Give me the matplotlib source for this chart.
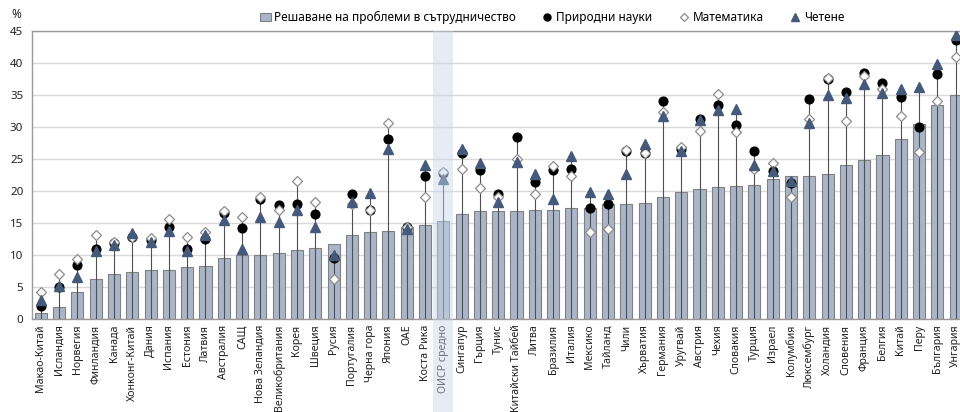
import matplotlib.pyplot as plt
from matplotlib.transforms import blended_transform_factory
from matplotlib.patches import Rectangle

plt.rcParams['font.family'] = ['Noto Sans', 'DejaVu Sans']

countries = [
    "Макао-Китай", "Исландия", "Норвегия", "Финландия", "Канада",
    "Хонконг-Китай", "Дания", "Испания", "Естония", "Латвия", "Австралия",
    "САЩ", "Нова Зеландия", "Великобритания", "Корея", "Швеция", "Русия",
    "Португалия", "Черна гора", "Япония", "ОАЕ", "Коста Рика",
    "ОИСР средно", "Сингапур", "Гърция", "Тунис", "Китайски Тайбей",
    "Литва", "Бразилия", "Италия", "Мексико", "Тайланд", "Чили",
    "Хърватия", "Германия", "Уругвай", "Австрия", "Чехия", "Словакия",
    "Турция", "Израел", "Колумбия", "Люксембург", "Холандия", "Словения",
    "Франция", "Белгия", "Китай", "Перу", "България", "Унгария",
]

# share of low performers (%)
collab = [0.9, 1.8, 4.2, 6.2, 7.1, 7.3, 7.6, 7.6, 8.2, 8.3, 9.6, 10.0, 10.0,
          10.3, 10.8, 11.1, 11.7, 13.1, 13.6, 13.7, 14.4, 14.7, 15.3, 16.4,
          16.8, 16.8, 16.9, 17.1, 17.1, 17.4, 17.4, 17.9, 17.9, 18.1, 19.0,
          19.8, 20.3, 20.6, 20.8, 20.9, 21.8, 22.3, 22.4, 22.7, 24.1, 24.8,
          25.6, 28.1, 30.4, 33.5, 35.0]
science = [2.1, 5.0, 8.5, 11.0, 11.9, 12.8, 12.4, 14.4, 11.0, 12.5, 16.5, 14.2,
           18.7, 17.8, 18.0, 16.4, 9.6, 19.6, 17.1, 28.1, 14.4, 22.4, 22.8,
           26.0, 23.3, 19.5, 28.4, 21.4, 23.3, 23.5, 17.3, 18.0, 26.3, 26.0,
           34.1, 26.6, 31.3, 33.5, 30.3, 26.3, 23.2, 21.3, 34.4, 37.5, 35.5,
           38.4, 36.8, 34.7, 30.0, 38.3, 43.6]
maths = [4.2, 7.1, 9.3, 13.2, 12.0, 12.8, 12.7, 15.6, 12.8, 13.6, 16.9, 15.9,
         19.0, 17.1, 21.6, 18.3, 6.3, 18.0, 17.1, 30.6, 14.3, 19.1, 22.9,
         23.4, 20.5, 19.0, 25.0, 19.6, 23.9, 22.4, 13.6, 14.1, 26.4, 26.0,
         32.3, 26.9, 29.4, 35.1, 29.2, 23.5, 24.4, 19.1, 31.2, 37.6, 30.9,
         37.9, 35.9, 31.7, 26.1, 34.0, 40.9]
reading = [2.9, 5.1, 6.6, 10.7, 11.5, 13.4, 12.1, 13.8, 10.7, 13.1, 15.5, 11.0,
           15.9, 15.1, 17.0, 14.4, 10.0, 18.3, 19.7, 26.5, 14.1, 24.0, 21.9,
           26.6, 24.4, 18.3, 24.6, 22.6, 18.7, 25.5, 19.9, 19.5, 22.6, 27.3,
           31.7, 26.3, 31.1, 32.7, 32.8, 24.0, 23.2, 21.6, 30.6, 35.0, 34.6,
           36.7, 35.3, 35.9, 36.3, 39.9, 44.4]

avg_label = "ОИСР средно"

fig = plt.figure(figsize=(9.6, 4.12), dpi=100)
ax = fig.add_axes([0.033, 0.2257, 0.972, 0.6991])

x = list(range(len(countries)))

ax.bar(x, collab, width=0.66, color='#aab5c9', edgecolor='#808080',
       linewidth=0.8, zorder=2,
       label="Решаване на проблеми в сътрудничество")

# vertical connector from zero to the highest marker
tops = [max(s, m, r) for s, m, r in zip(science, maths, reading)]
ax.vlines(x, 0, tops, color='#505050', linewidth=0.8, zorder=3)

ax.plot(x, science, linestyle='none', marker='o', markersize=6.3,
        color='black', zorder=4, label="Природни науки")
ax.plot(x, maths, linestyle='none', marker='D', markersize=5.2,
        markerfacecolor='white', markeredgecolor='#8c8c8c',
        markeredgewidth=0.9, zorder=5, label="Математика")
ax.plot(x, reading, linestyle='none', marker='^', markersize=6.5,
        color='#45597a', zorder=6, label="Четене")

# highlight band for the OECD average, running down into the labels
i_avg = countries.index(avg_label)
trans = blended_transform_factory(ax.transData, ax.transAxes)
ax.add_patch(Rectangle((i_avg - 0.55, -0.33), 1.1, 1.33, transform=trans,
                       facecolor='#c9d7ec', alpha=0.45, edgecolor='none',
                       clip_on=False, zorder=7))

ax.set_xlim(-0.5, len(countries) - 0.5)
ax.set_ylim(0, 45)
ax.set_yticks(range(0, 46, 5))
ax.set_xticks(x)
ax.set_xticklabels(countries, rotation=90, fontsize=7.6, color='#222222')
ax.tick_params(axis='x', length=0, pad=4)
ax.tick_params(axis='y', length=0, labelsize=8.3, labelcolor='#222222', pad=6)

ax.yaxis.grid(True, color='#d9d9d9', linewidth=1.0, zorder=0)
ax.set_axisbelow(True)
for side in ['left', 'bottom', 'top']:
    ax.spines[side].set_color('#9a9a9a')
    ax.spines[side].set_linewidth(1.0)
ax.spines['right'].set_visible(False)

fig.text(0.012, 0.965, "%", fontsize=8.5, fontweight='bold', color='#222222',
         va='center', ha='left')

handles, labels = ax.get_legend_handles_labels()
order = [labels.index(n) for n in ["Решаване на проблеми в сътрудничество",
                                   "Природни науки", "Математика", "Четене"]]
fig.legend([handles[i] for i in order], [labels[i] for i in order],
           loc='center', bbox_to_anchor=(0.575, 0.958), ncol=4, frameon=False,
           fontsize=8.5, handlelength=0.9, handletextpad=0.3,
           columnspacing=2.2, markerscale=0.8)

fig.savefig("out.png", dpi=100)
